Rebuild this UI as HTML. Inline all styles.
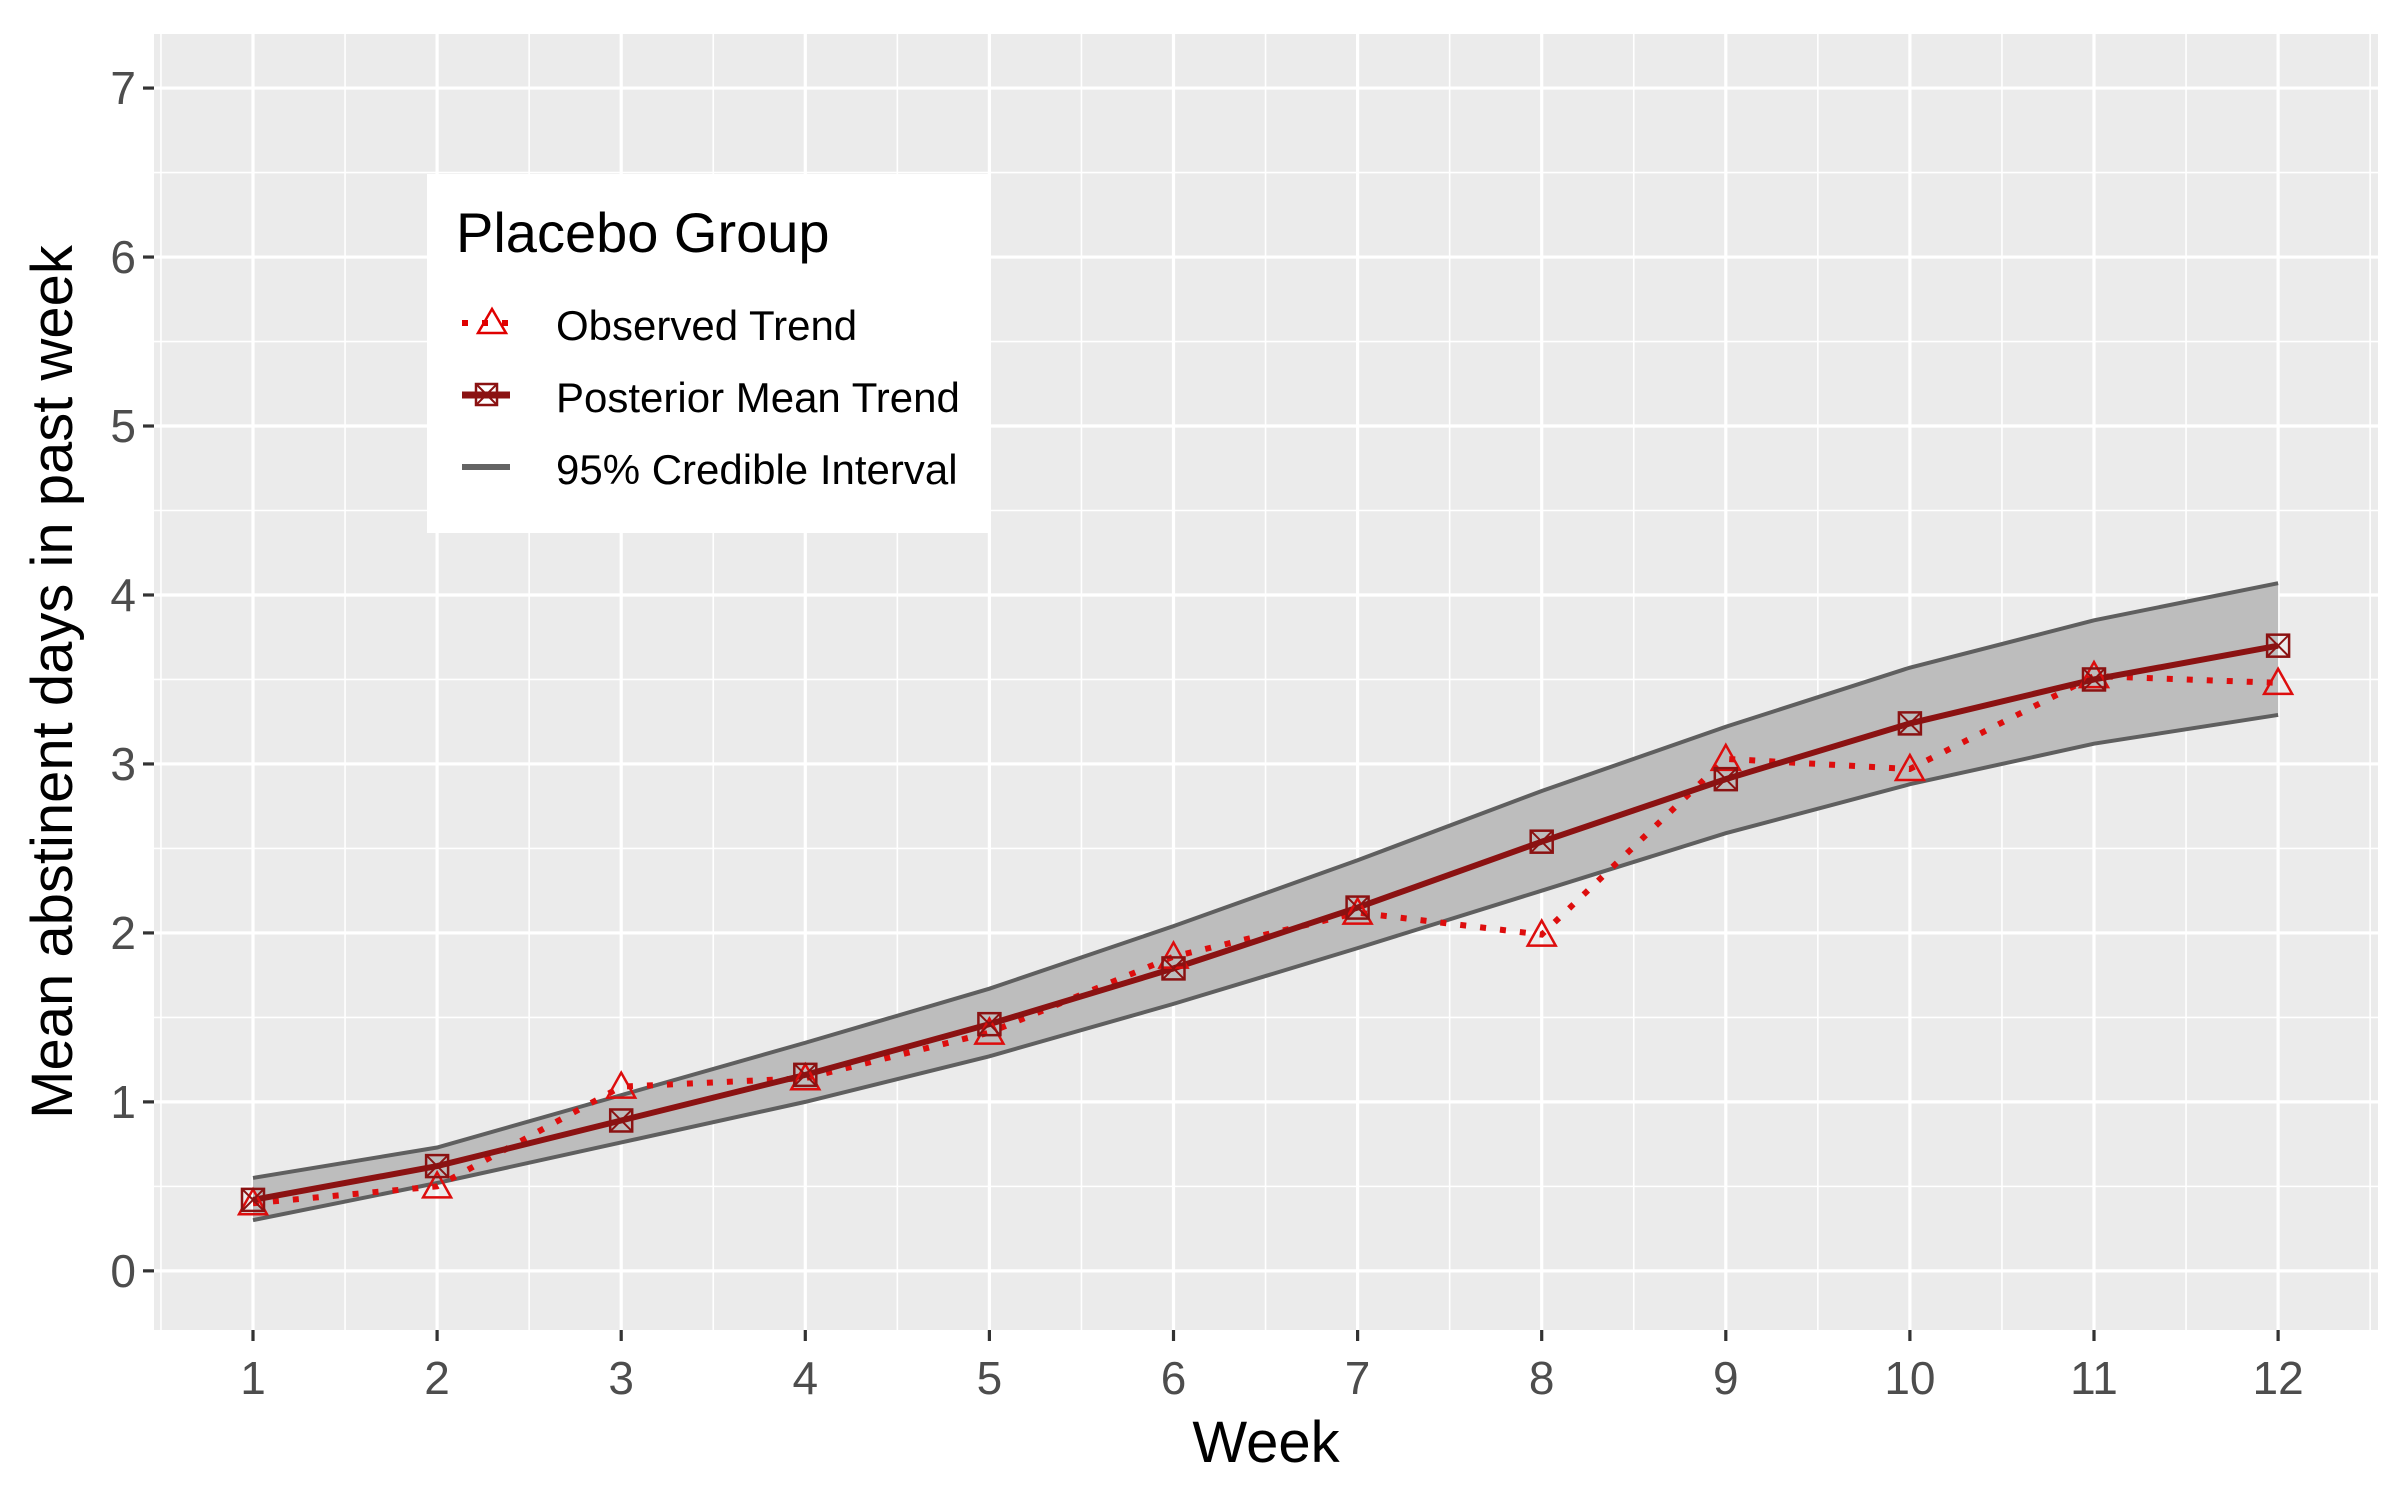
<!DOCTYPE html>
<html><head><meta charset="utf-8"><style>
html,body{margin:0;padding:0;background:#fff;}
svg{display:block;font-family:"Liberation Sans",Arial,sans-serif;}
</style></head><body>
<svg id="chart" width="2400" height="1500" viewBox="0 0 2400 1500">
<rect x="154" y="34" width="2224" height="1296" fill="#ebebeb"/>
<g id="grid"></g>
<g id="series"></g>
<g id="axes"></g>
<text x="1266" y="1462" font-size="58" text-anchor="middle" fill="#000">Week</text>
<text transform="translate(72,682) rotate(-90)" font-size="58" text-anchor="middle" fill="#000">Mean abstinent days in past week</text>
<g>
<rect x="427" y="174" width="562" height="359" fill="#fff"/>
<text x="456" y="252" font-size="56" fill="#000">Placebo Group</text>
<g>
<line x1="462" y1="323" x2="510" y2="323" stroke="#e00000" stroke-width="6" stroke-dasharray="6,14"/>
<path d="M478,333 L492,309 L506,333 Z" fill="none" stroke="#e00000" stroke-width="2.5"/>
<text x="556" y="340" font-size="42" fill="#000">Observed Trend</text>
</g>
<g>
<line x1="462" y1="395" x2="510" y2="395" stroke="#8b1212" stroke-width="7"/>
<rect x="476" y="384" width="21" height="21" fill="none" stroke="#8b1212" stroke-width="2.5"/>
<path d="M476,384 L497,405 M497,384 L476,405" stroke="#8b1212" stroke-width="2"/>
<text x="556" y="412" font-size="42" fill="#000">Posterior Mean Trend</text>
</g>
<g>
<line x1="462" y1="467" x2="510" y2="467" stroke="#646464" stroke-width="6"/>
<text x="556" y="484" font-size="42" fill="#000">95% Credible Interval</text>
</g>
</g>
</svg>
<script>
const weeks=[1,2,3,4,5,6,7,8,9,10,11,12];
const posterior=[0.42,0.62,0.89,1.16,1.46,1.79,2.15,2.54,2.91,3.24,3.50,3.70];
const observed=[0.40,0.50,1.09,1.14,1.41,1.86,2.12,1.99,3.03,2.97,3.52,3.48];
const upper=[0.55,0.73,1.04,1.35,1.67,2.04,2.43,2.84,3.22,3.57,3.85,4.07];
const lower=[0.30,0.52,0.76,1.00,1.27,1.58,1.91,2.25,2.59,2.88,3.12,3.29];
const yTicks=[0,1,2,3,4,5,6,7];
const xTicks=[1,2,3,4,5,6,7,8,9,10,11,12];

const NS="http://www.w3.org/2000/svg";
const X0=154,X1=2378,Y0=34,Y1=1330;
const ymin=-0.35,ymax=7.32;
function sx(v){return 253+(v-1)*184.1;}
function sy(v){return Y1-(v-ymin)/(ymax-ymin)*(Y1-Y0);}
function mk(tag,attrs,parent){const e=document.createElementNS(NS,tag);for(const k in attrs)e.setAttribute(k,attrs[k]);parent.appendChild(e);return e;}
const grid=document.getElementById('grid'),ser=document.getElementById('series'),ax=document.getElementById('axes');

for(let i=0;i<yTicks.length-1;i++){const v=(yTicks[i]+yTicks[i+1])/2;
 const l=mk('line',{x1:X0,x2:X1,y1:sy(v),y2:sy(v),stroke:'#fff','stroke-width':1.6},grid);
 
 }
for(let i=0;i<xTicks.length-1;i++){const v=(xTicks[i]+xTicks[i+1])/2;
 const l=mk('line',{y1:Y0,y2:Y1,x1:sx(v),x2:sx(v),stroke:'#fff','stroke-width':1.6},grid);
 
 }
[0.5,12.5].forEach(v=>{const l=mk('line',{y1:Y0,y2:Y1,x1:sx(v),x2:sx(v),stroke:'#fff','stroke-width':1.6},grid);
 
 });
yTicks.forEach(v=>{const l=mk('line',{x1:X0,x2:X1,y1:sy(v),y2:sy(v),stroke:'#fff','stroke-width':3.2},grid);
 
 
 const t=mk('line',{x1:X0-11,x2:X0,y1:sy(v),y2:sy(v),stroke:'#333','stroke-width':3.2},ax);
 
 
 const tx=mk('text',{x:X0-18,y:sy(v)+16,'font-size':46,'text-anchor':'end',fill:'#4d4d4d'},ax);tx.textContent=v;
 
 });
xTicks.forEach(v=>{const l=mk('line',{y1:Y0,y2:Y1,x1:sx(v),x2:sx(v),stroke:'#fff','stroke-width':3.2},grid);
 
 
 const t=mk('line',{y1:Y1,y2:Y1+11,x1:sx(v),x2:sx(v),stroke:'#333','stroke-width':3.2},ax);
 
 
 const tx=mk('text',{x:sx(v),y:Y1+64,'font-size':46,'text-anchor':'middle',fill:'#4d4d4d'},ax);tx.textContent=v;
 
 });

let rib='M'+weeks.map((w,i)=>sx(w)+','+sy(upper[i])).join(' L')+' L'+weeks.map((w,i)=>sx(w)+','+sy(lower[i])).reverse().join(' L')+' Z';
const r=mk('path',{d:rib,fill:'#bdbdbd'},ser);


function pl(arr){return weeks.map((w,i)=>sx(w)+','+sy(arr[i])).join(' ');}
const u=mk('polyline',{points:pl(upper),fill:'none',stroke:'#5f5f5f','stroke-width':4},ser);


const lo=mk('polyline',{points:pl(lower),fill:'none',stroke:'#5f5f5f','stroke-width':4},ser);


const ob=mk('polyline',{points:pl(observed),fill:'none',stroke:'#dd0d0d','stroke-width':6,'stroke-dasharray':'6,14'},ser);


const po=mk('polyline',{points:pl(posterior),fill:'none',stroke:'#8b1212','stroke-width':6},ser);


weeks.forEach((w,i)=>{const x=sx(w),y=sy(observed[i]);
 const p=mk('path',{d:`M${x-14},${y+11} L${x},${y-14} L${x+14},${y+11} Z`,fill:'none',stroke:'#dd0d0d','stroke-width':2.5},ser);
 
 });
weeks.forEach((w,i)=>{const x=sx(w),y=sy(posterior[i]);
 const g=mk('g',{},ser);
 
 
 mk('rect',{x:x-11,y:y-11,width:22,height:22,fill:'none',stroke:'#8b1212','stroke-width':2.5},g);
 mk('path',{d:`M${x-11},${y-11} L${x+11},${y+11} M${x+11},${y-11} L${x-11},${y+11}`,stroke:'#8b1212','stroke-width':2},g);});
</script>
</body></html>
